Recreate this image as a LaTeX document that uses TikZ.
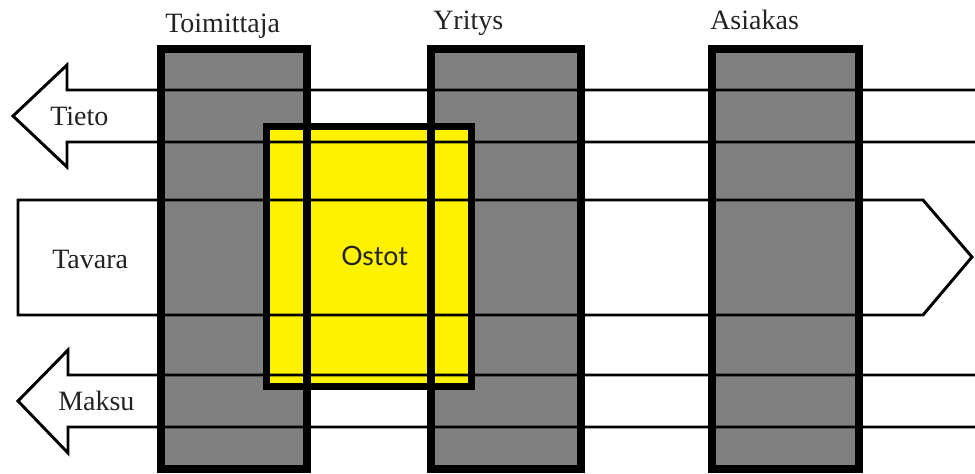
\documentclass[tikz,border=0pt]{standalone}
\usepackage{fontspec}
\setmainfont{Liberation Serif}
\newfontfamily\ostotfont{Lato}
\definecolor{colgray}{RGB}{128,128,128}
\definecolor{ostotyellow}{RGB}{255,242,0}
\definecolor{txt}{RGB}{35,35,35}
\begin{document}
\begin{tikzpicture}[x=0.75pt,y=-0.75pt,
  flowline/.style={line width=2.2pt,line join=miter,black},
  colfill/.style={fill=colgray},
  colborder/.style={draw=black,line width=6pt},
  ostotborder/.style={draw=black,line width=5.2pt},
  lbl/.style={font=\fontsize{21}{24}\selectfont,text=txt,inner sep=0pt,anchor=base west},
  ostotlbl/.style={font=\ostotfont\fontsize{20}{24}\selectfont,text=txt,inner sep=0pt,anchor=base west}]
\useasboundingbox (0,0) rectangle (975,474);
% arrows: white bodies
\fill[white] (976,90) -- (67,90) -- (67,65) -- (13,116) -- (67,167) -- (67,142) -- (976,142) -- cycle;
\fill[white] (18,200) -- (923,200) -- (972,257) -- (923,315) -- (18,315) -- cycle;
\fill[white] (976,375) -- (68,375) -- (68,350) -- (18,401) -- (68,453) -- (68,427) -- (976,427) -- cycle;
% column fills
\coordinate (toimA) at (161,49); \coordinate (toimB) at (307,469);
\coordinate (yritA) at (431,49); \coordinate (yritB) at (581,469);
\coordinate (asiaA) at (712,49); \coordinate (asiaB) at (859,469);
\coordinate (ostA) at (266.5,126.5); \coordinate (ostB) at (471.5,386.5);
\path[colfill] (toimA) rectangle (toimB);
\path[colfill] (yritA) rectangle (yritB);
\path[colfill] (asiaA) rectangle (asiaB);
% Ostot fill
\path[fill=ostotyellow] (ostA) rectangle (ostB);
% arrow outlines
\draw[flowline] (976,90) -- (67,90) -- (67,65) -- (13,116) -- (67,167) -- (67,142) -- (976,142);
\draw[flowline] (18,200) -- (923,200) -- (972,257) -- (923,315) -- (18,315) -- cycle;
\draw[flowline] (976,375) -- (68,375) -- (68,350) -- (18,401) -- (68,453) -- (68,427) -- (976,427);
% column borders
\draw[colborder] (toimA) rectangle (toimB);
\draw[colborder] (yritA) rectangle (yritB);
\draw[colborder] (asiaA) rectangle (asiaB);
% Ostot border
\draw[ostotborder] (ostA) rectangle (ostB);
% labels
\node[lbl] (ltoim) at (165,33) {Toimittaja};
\node[lbl] (lyrit) at (433,30) {Yritys};
\node[lbl] (lasia) at (710,30) {Asiakas};
\node[lbl] (ltieto) at (50,126) {Tieto};
\node[lbl] (ltavara) at (52,268) {Tavara};
\node[lbl] (lmaksu) at (58,410) {Maksu};
\node[ostotlbl] (lostot) at (341,265) {Ostot};
\end{tikzpicture}
\end{document}
